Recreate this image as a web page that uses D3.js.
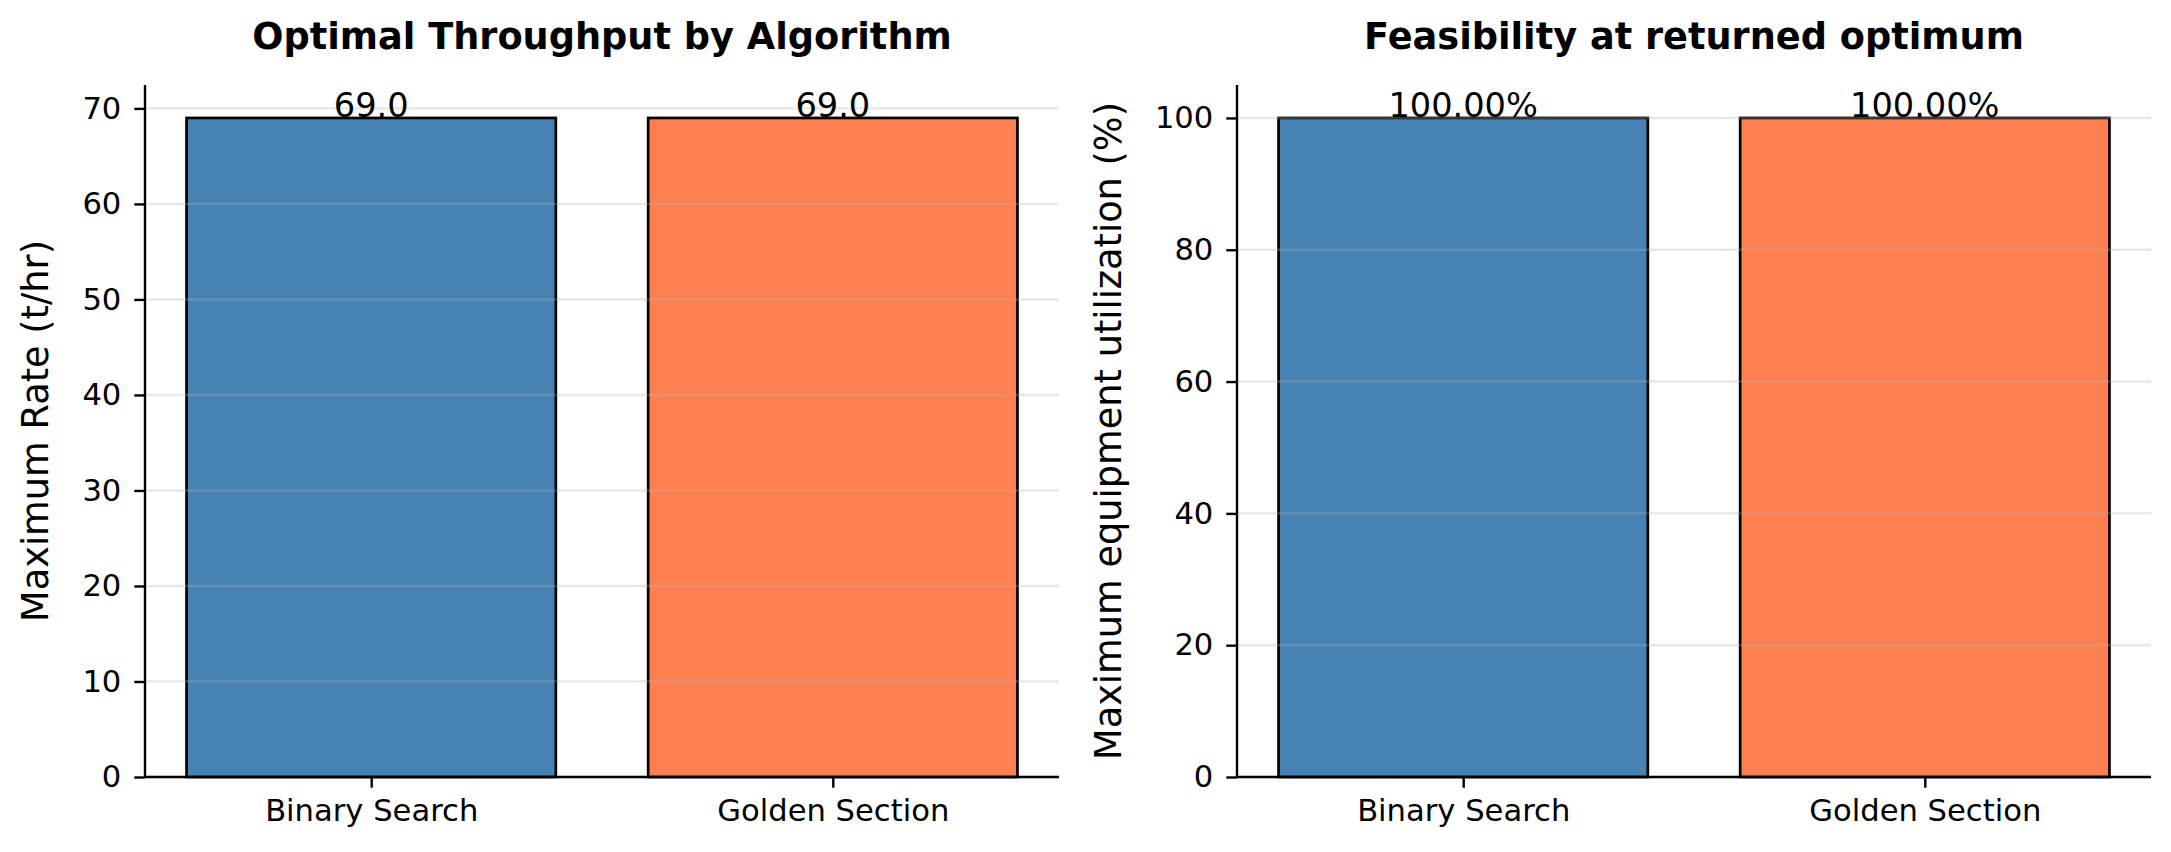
<!DOCTYPE html>
<html>
<head>
<meta charset="utf-8">
<script src="https://cdn.jsdelivr.net/npm/d3@7"></script>
<style>
  body { margin: 0; background: #ffffff; }
  svg { display: block; font-family: "DejaVu Sans", sans-serif; }
</style>
</head>
<body>
<div id="chart"></div>
<script>
var algorithms = ["Binary Search", "Golden Section"];
var barColors = ["#4682B4", "#FF7F50"];

var maxRate = [69.0, 69.0];
var rateTicks = [0, 10, 20, 30, 40, 50, 60, 70];

var utilization = [100.0, 100.0];
var utilTicks = [0, 20, 40, 60, 80, 100];

var width = 2171,
  height = 852;

var svg = d3.select("#chart")
  .append("svg")
  .attr("width", width)
  .attr("height", height);

// window.top is read-only, so not "top"
var plotTop = 85, plotBottom = 777;

var panels = [
  {
    left: 145, right: 1059,
    title: "Optimal Throughput by Algorithm",
    ylabel: "Maximum Rate (t/hr)", ylabelX: 48,
    values: maxRate, ticks: rateTicks,
    fmt: function(v){ return v.toFixed(1); }
  },
  {
    left: 1237, right: 2151,
    title: "Feasibility at returned optimum",
    ylabel: "Maximum equipment utilization (%)", ylabelX: 1121,
    values: utilization, ticks: utilTicks,
    fmt: function(v){ return v.toFixed(2) + "%"; }
  }
];

panels.forEach(function(p){
  // matplotlib style limits: bars at 0..n-1, 5% margins on x, 5% headroom on y
  var x = d3.scaleLinear()
    .domain([-0.49, algorithms.length - 1 + 0.49])
    .range([p.left, p.right]);
  var y = d3.scaleLinear()
    .domain([0, d3.max(p.values) * 1.05])
    .range([plotBottom, plotTop]);

  var g = svg.append("g");

  g.selectAll("rect.bar")
    .data(p.values)
    .enter()
    .append("rect")
    .attr("class", "bar")
    .attr("x", function(d, i){ return x(i - 0.4); })
    .attr("y", function(d){ return y(d); })
    .attr("width", function(d, i){ return x(i + 0.4) - x(i - 0.4); })
    .attr("height", function(d){ return y(0) - y(d); })
    .attr("fill", function(d, i){ return barColors[i]; })
    .attr("stroke", "black")
    .attr("stroke-width", 2.7);

  // grid sits over the bars in the reference
  g.selectAll("line.grid")
    .data(p.ticks)
    .enter()
    .append("line")
    .attr("class", "grid")
    .attr("x1", p.left)
    .attr("x2", p.right)
    .attr("y1", function(d){ return y(d); })
    .attr("y2", function(d){ return y(d); })
    .attr("stroke", "#b0b0b0")
    .attr("stroke-opacity", 0.3)
    .attr("stroke-width", 2.4);

  var yAxis = d3.axisLeft(y)
    .tickValues(p.ticks)
    .tickSize(10.7)
    .tickPadding(13)
    .tickFormat(d3.format("d"));

  var xAxis = d3.axisBottom(x)
    .tickValues(d3.range(algorithms.length))
    .tickSize(10.7)
    .tickPadding(12)
    .tickFormat(function(i){ return algorithms[i]; });

  var ya = g.append("g")
    .attr("transform", "translate(" + p.left + ",0)")
    .call(yAxis);
  var xa = g.append("g")
    .attr("transform", "translate(0," + plotBottom + ")")
    .call(xAxis);

  [ya, xa].forEach(function(a){
    a.select(".domain")
      .attr("stroke", "black")
      .attr("stroke-width", 2.4);
    a.selectAll(".tick line")
      .attr("stroke", "black")
      .attr("stroke-width", 2.4);
    a.selectAll(".tick text")
      .attr("fill", "black")
      .style("font-family", "DejaVu Sans")
      .style("font-size", "30.6px");
  });
  // keep the spines as straight lines, without the d3 outer ticks
  ya.select(".domain").attr("d", "M0," + plotTop + "V" + plotBottom);
  xa.select(".domain").attr("d", "M" + p.left + ",0H" + p.right);

  g.selectAll("text.value")
    .data(p.values)
    .enter()
    .append("text")
    .attr("class", "value")
    .attr("x", function(d, i){ return x(i); })
    .attr("y", function(d){ return y(d) - 1; })
    .attr("text-anchor", "middle")
    .style("font-size", "33.6px")
    .text(p.fmt);

  g.append("text")
    .attr("x", (p.left + p.right) / 2)
    .attr("y", 49)
    .attr("text-anchor", "middle")
    .style("font-size", "36.7px")
    .style("font-weight", "bold")
    .text(p.title);

  g.append("text")
    .attr("transform", "translate(" + p.ylabelX + "," + ((plotTop + plotBottom) / 2) + ") rotate(-90)")
    .attr("text-anchor", "middle")
    .style("font-size", "36.7px")
    .text(p.ylabel);
});
</script>
</body>
</html>
